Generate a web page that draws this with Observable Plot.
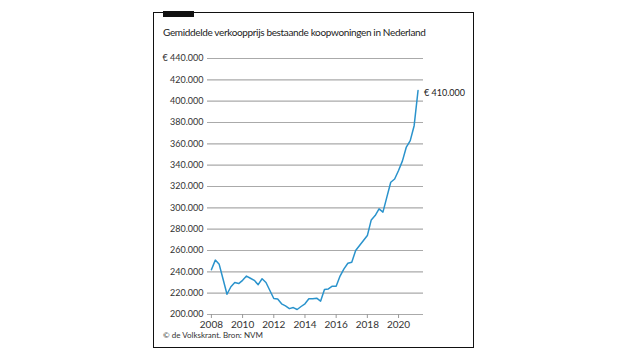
<!DOCTYPE html>
<html>
<head>
<meta charset="utf-8">
<script src="https://cdn.jsdelivr.net/npm/d3@7"></script>
<script src="https://cdn.jsdelivr.net/npm/@observablehq/plot@0.6"></script>
<style>
  html, body { margin: 0; padding: 0; background: #fff; width: 640px; height: 360px; overflow: hidden; }
  body { font-family: Lato, Roboto, "Noto Sans", sans-serif; color: #222; position: relative; }
  #frame { position: absolute; left: 153px; top: 12px; width: 319px; height: 334px; border: 1.5px solid #111; }
  #tab { position: absolute; left: 163px; top: 11px; width: 31px; height: 6px; background: #111; }
  #title { position: absolute; left: 163px; top: 26px; font-size: 10px; letter-spacing: -0.35px; color: #222; white-space: nowrap; }
  #chart { position: absolute; left: 153px; top: 45px; }
  #caption { position: absolute; left: 163px; top: 330px; font-size: 8px; color: #333; white-space: nowrap; }
</style>
</head>
<body>
<div id="frame"></div>
<div id="tab"></div>
<div id="title">Gemiddelde verkoopprijs bestaande koopwoningen in Nederland</div>
<div id="chart"></div>
<div id="caption">© de Volkskrant. Bron: NVM</div>
<script>
// Quarterly average sale price (× 1000 euro), 2008 Q1 – 2021 Q2
const startYear = 2008;
const prices = [
  242, 251, 247, 233,
  219, 226, 230, 229,
  232, 236, 234, 232,
  228, 233.5, 230, 222.5,
  215, 214.5, 210, 208,
  205.5, 206.5, 204.7, 207.5,
  210, 214.7, 214.7, 215.3,
  212.5, 223.4, 224, 226.5,
  226.5, 236, 242.8, 248,
  249, 260, 264.7, 269.4,
  274, 288.7, 292.8, 299,
  296, 310, 324, 327,
  335, 344, 357, 363,
  377, 410
];
const yTicks = [200, 220, 240, 260, 280, 300, 320, 340, 360, 380, 400, 420, 440];
const xTicks = [2008, 2010, 2012, 2014, 2016, 2018, 2020];
const xDomain = [2007.75, 2021.6];
const endLabel = "€ 410.000";

const data = prices.map((v, i) => ({ t: startYear + i * 0.25, v }));
const last = data[data.length - 1];

const fmt = d => (d === 440 ? "€ " : "") + d + ".000";

const chart = Plot.plot({
  width: 321,
  height: 287,
  marginLeft: 54,
  marginRight: 51,
  marginTop: 13,
  marginBottom: 18,
  style: { fontFamily: "Lato, Roboto, 'Noto Sans', sans-serif", background: "transparent", overflow: "visible" },
  x: { domain: xDomain },
  y: { domain: [200, 440] },
  marks: [
    Plot.ruleY(yTicks, { stroke: "#aaa", strokeWidth: 1.1 }),
    Plot.axisY({ ticks: yTicks, tickSize: 0, tickPadding: 4, tickFormat: fmt, fontSize: 9, fill: "#333", label: null }),
    Plot.axisX({ ticks: xTicks, tickSize: 4, tickPadding: 2, tickFormat: d => String(d), fontSize: 10, fill: "#333", stroke: "#999", label: null }),
    Plot.line(data, { x: "t", y: "v", stroke: "#2a93cc", strokeWidth: 1.5 }),
    Plot.text([last], { x: "t", y: "v", text: () => endLabel, textAnchor: "start", dx: 6, dy: 3, fontSize: 9, fill: "#222" })
  ]
});
document.getElementById("chart").appendChild(chart);
</script>
</body>
</html>
